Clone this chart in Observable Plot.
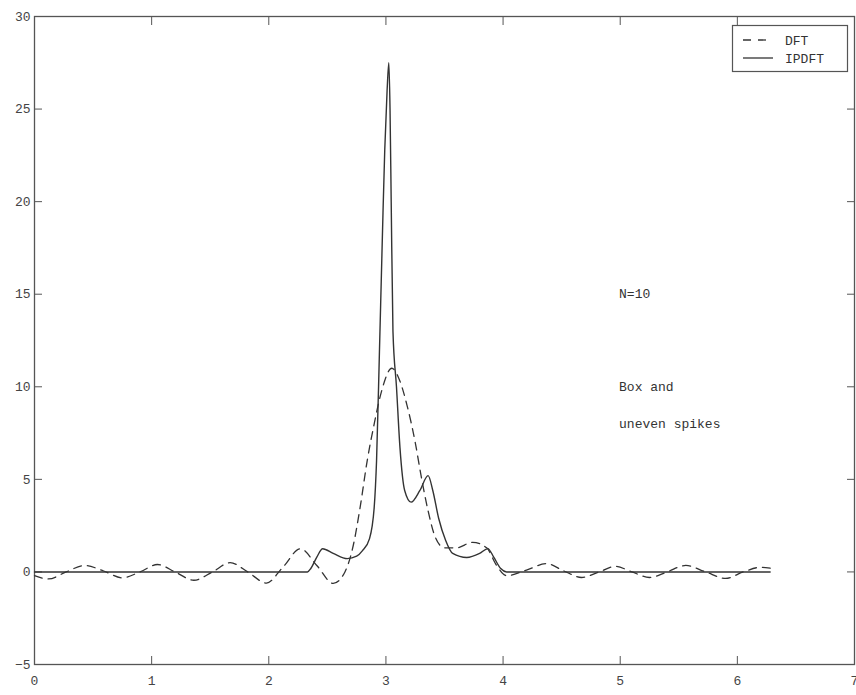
<!DOCTYPE html>
<html>
<head>
<meta charset="utf-8">
<script src="https://cdn.jsdelivr.net/npm/d3@7"></script>
<script src="https://cdn.jsdelivr.net/npm/@observablehq/plot@0.6"></script>
<style>
  html, body { margin: 0; padding: 0; background: #fff; }
  #chart { width: 856px; height: 695px; overflow: hidden; }
</style>
</head>
<body>
<div id="chart"></div>
<script>
// ---- data ----
const dftX = [0, 0.12, 0.27, 0.43, 0.59, 0.75, 0.9, 1.05, 1.2, 1.36, 1.52, 1.67, 1.82, 1.98, 2.12, 2.27, 2.41, 2.55, 2.65, 2.72, 2.78, 2.84, 2.9, 2.96, 3.05, 3.12, 3.18, 3.25, 3.3, 3.36, 3.42, 3.5, 3.6, 3.74, 3.86, 3.94, 4.03, 4.2, 4.37, 4.52, 4.67, 4.82, 4.96, 5.1, 5.25, 5.4, 5.56, 5.73, 5.9, 6.05, 6.2, 6.28];
const dftY = [-0.2, -0.38, 0, 0.35, 0.05, -0.32, 0, 0.4, 0, -0.45, 0, 0.5, 0, -0.6, 0.25, 1.25, 0.35, -0.62, 0.0, 1.4, 3.5, 6.0, 8.0, 9.7, 11.0, 10.3, 9.0, 7.0, 5.2, 3.3, 1.9, 1.3, 1.3, 1.6, 1.3, 0.4, -0.2, 0.1, 0.45, 0.05, -0.3, 0, 0.3, 0, -0.3, 0, 0.35, 0, -0.35, 0, 0.25, 0.2];

const ipdftX = [0, 2.33, 2.36, 2.41, 2.46, 2.55, 2.67, 2.75, 2.8, 2.86, 2.9, 2.92, 2.945, 2.96, 2.975, 2.99, 3.01, 3.025, 3.035, 3.045, 3.06, 3.09, 3.12, 3.16, 3.215, 3.29, 3.36, 3.4, 3.45, 3.51, 3.57, 3.69, 3.8, 3.87, 3.92, 3.98, 4.03, 6.28];
const ipdftY = [0, 0, 0.2, 0.8, 1.25, 1.0, 0.72, 0.85, 1.15, 1.8, 3.5, 6.0, 12.0, 15.7, 19.4, 22.8, 26.0, 27.5, 25.0, 20.0, 13.0, 10.0, 6.7, 4.4, 3.77, 4.4, 5.2, 4.4, 2.9, 1.7, 1.0, 0.78, 1.0, 1.26, 0.8, 0.18, 0, 0];

const xTicks = [0, 1, 2, 3, 4, 5, 6, 7];
const yTicks = [-5, 0, 5, 10, 15, 20, 25, 30];

const seriesNames = ["DFT", "IPDFT"];
const noteText = ["N=10", "Box and", "uneven spikes"];
const noteX = [4.99, 4.99, 4.99];
const noteY = [15, 10, 8];

// ---- build tables ----
const dft = dftX.map((x, i) => ({x, y: dftY[i]}));
const ipdft = ipdftX.map((x, i) => ({x, y: ipdftY[i]}));
const notes = noteText.map((t, i) => ({t, x: noteX[i], y: noteY[i]}));

const ink = "#333";
const frameInk = "#555";
const font = "'Liberation Mono', 'Courier New', monospace";
const intFmt = d3.format("d");

const plot = Plot.plot({
  width: 856,
  height: 695,
  marginLeft: 34,
  marginTop: 16,
  marginBottom: 31,
  marginRight: 2,
  style: {fontFamily: font, fontSize: "13px", color: "#444", background: "#fff"},
  x: {domain: [0, 7]},
  y: {domain: [-5, 30]},
  marks: [
    Plot.frame({stroke: frameInk, strokeWidth: 1.3}),
    Plot.axisX({anchor: "bottom", ticks: xTicks, tickSize: -8, tickPadding: 19, tickFormat: intFmt, label: null, stroke: frameInk, fill: "#444"}),
    Plot.axisX({anchor: "top", ticks: xTicks, tickSize: -8, tickFormat: () => "", label: null, stroke: frameInk}),
    Plot.axisY({anchor: "left", ticks: yTicks, tickSize: -8, tickPadding: 12, tickFormat: intFmt, label: null, stroke: frameInk, fill: "#444"}),
    Plot.axisY({anchor: "right", ticks: yTicks, tickSize: -8, tickFormat: () => "", label: null, stroke: frameInk}),
    Plot.line(dft, {x: "x", y: "y", stroke: ink, strokeWidth: 1.3, strokeDasharray: "8,6", curve: "monotone-x"}),
    Plot.line(ipdft, {x: "x", y: "y", stroke: ink, strokeWidth: 1.4, curve: "monotone-x"}),
    Plot.text(notes, {x: "x", y: "y", text: "t", textAnchor: "start", fill: "#333", fontSize: 13})
  ]
});

document.getElementById("chart").appendChild(plot);

// ---- legend box inside the plot area (top-right) ----
const svg = d3.select(plot);
const lg = svg.append("g").attr("font-family", font).attr("font-size", 13).attr("fill", "#333").attr("text-anchor", "start");
lg.append("rect").attr("x", 732.5).attr("y", 25.5).attr("width", 115).attr("height", 46)
  .attr("fill", "#fff").attr("stroke", frameInk).attr("stroke-width", 1.2);
const dashes = ["8,7", null];
seriesNames.forEach((name, i) => {
  const yy = 40 + i * 18;
  const ln = lg.append("line").attr("x1", 743).attr("x2", 773).attr("y1", yy).attr("y2", yy)
    .attr("stroke", ink).attr("stroke-width", 1.3);
  if (dashes[i]) ln.attr("stroke-dasharray", dashes[i]);
  lg.append("text").attr("x", 785).attr("y", yy).attr("dy", "0.35em").attr("text-anchor", "start").text(name);
});
</script>
</body>
</html>
